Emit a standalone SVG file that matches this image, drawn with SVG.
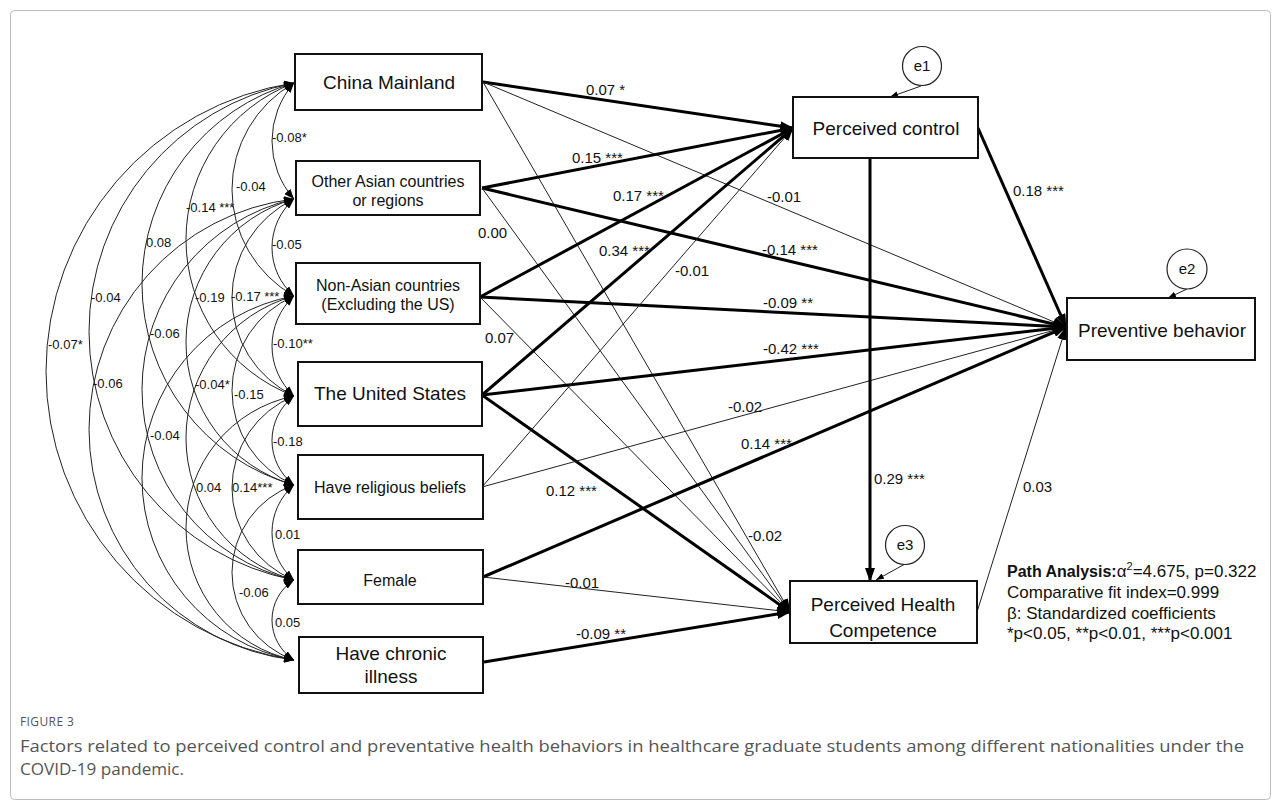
<svg xmlns="http://www.w3.org/2000/svg" width="1281" height="807" viewBox="0 0 1281 807">
<defs>
<style>
.box{fill:#fff;stroke:#111;stroke-width:2}
.thick{stroke:#000;stroke-width:3;fill:none;marker-end:url(#ah)}
.thin{stroke:#222;stroke-width:1;fill:none;marker-end:url(#ah)}
.cov{stroke:#222;stroke-width:1;fill:none;marker-start:url(#ca);marker-end:url(#ca)}
.err{stroke:#222;stroke-width:1;fill:none;marker-end:url(#ea)}
.ecirc{fill:#fff;stroke:#222;stroke-width:1.2}
text{font-family:"Liberation Sans",Arial,sans-serif;fill:#111}
.n19{font-size:19px;text-anchor:middle}
.n16{font-size:16px;text-anchor:middle}
.pl{font-size:15px}
.cl{font-size:13px}
.et{font-size:15px;text-anchor:middle}
.note{font-size:17px}
.cap{font-family:"Open Sans","Liberation Sans",sans-serif;fill:#555}
</style>
<marker id="ah" markerUnits="userSpaceOnUse" markerWidth="14" markerHeight="10" refX="13" refY="5" orient="auto"><path d="M0,0 L14,5 L0,10 z" fill="#000"/></marker>
<marker id="ca" markerUnits="userSpaceOnUse" markerWidth="10" markerHeight="8" refX="10" refY="4" orient="auto-start-reverse"><path d="M0,0 L10,4 L0,8 z" fill="#000"/></marker>
<marker id="ea" markerUnits="userSpaceOnUse" markerWidth="8" markerHeight="6" refX="8" refY="3" orient="auto"><path d="M0,0 L8,3 L0,6 z" fill="#000"/></marker>
</defs>
<rect x="0" y="0" width="1281" height="807" fill="#fff"/>
<rect x="10.5" y="10.5" width="1260" height="789" rx="4" fill="none" stroke="#bbb" stroke-width="1"/>

<g id="connectors">
<!-- covariance arcs -->
<path class="cov" d="M294 83 A87.45 87.45 0 0 0 294 199"/>
<path class="cov" d="M294 199 A64.46 64.46 0 0 0 294 296"/>
<path class="cov" d="M294 296 A67.82 67.82 0 0 0 294 396"/>
<path class="cov" d="M294 396 A56 56 0 0 0 294 485"/>
<path class="cov" d="M294 485 A62.28 62.28 0 0 0 294 580"/>
<path class="cov" d="M294 580 A47.36 47.36 0 0 0 294 660"/>
<path class="cov" d="M294 83 A122.47 122.47 0 0 0 294 296"/>
<path class="cov" d="M294 199 A109.24 109.24 0 0 0 294 396"/>
<path class="cov" d="M294 296 A103.02 103.02 0 0 0 294 485"/>
<path class="cov" d="M294 396 A99.26 99.26 0 0 0 294 580"/>
<path class="cov" d="M294 485 A92.74 92.74 0 0 0 294 660"/>
<path class="cov" d="M294 83 A167.39 167.39 0 0 0 294 396"/>
<path class="cov" d="M294 199 A148.67 148.67 0 0 0 294 485"/>
<path class="cov" d="M294 296 A147.35 147.35 0 0 0 294 580"/>
<path class="cov" d="M294 396 A134.67 134.67 0 0 0 294 660"/>
<path class="cov" d="M294 83 A208.9 208.9 0 0 0 294 485"/>
<path class="cov" d="M294 199 A195.38 195.38 0 0 0 294 580"/>
<path class="cov" d="M294 296 A184.96 184.96 0 0 0 294 660"/>
<path class="cov" d="M294 83 A253.12 253.12 0 0 0 294 580"/>
<path class="cov" d="M294 199 A232.09 232.09 0 0 0 294 660"/>
<path class="cov" d="M294 83 A291.81 291.81 0 0 0 294 660"/>
<!-- regression paths -->
<line class="thick" x1="483" y1="82" x2="793" y2="128"/>
<line class="thin" x1="483" y1="82" x2="1066" y2="327"/>
<line class="thin" x1="483" y1="82" x2="790" y2="612"/>
<line class="thick" x1="482" y1="188" x2="793" y2="128"/>
<line class="thick" x1="482" y1="188" x2="1066" y2="327"/>
<line class="thin" x1="482" y1="188" x2="790" y2="612"/>
<line class="thick" x1="480" y1="297" x2="793" y2="128"/>
<line class="thick" x1="480" y1="297" x2="1066" y2="327"/>
<line class="thin" x1="480" y1="297" x2="790" y2="612"/>
<line class="thick" x1="482" y1="395" x2="793" y2="128"/>
<line class="thick" x1="482" y1="395" x2="1066" y2="327"/>
<line class="thick" x1="482" y1="395" x2="790" y2="612"/>
<line class="thin" x1="482" y1="487" x2="793" y2="128"/>
<line class="thin" x1="482" y1="487" x2="1066" y2="327"/>
<line class="thick" x1="483" y1="577" x2="1066" y2="327"/>
<line class="thin" x1="483" y1="577" x2="790" y2="612"/>
<line class="thick" x1="484" y1="662" x2="790" y2="612"/>
<line class="thick" x1="978" y1="128" x2="1066" y2="327"/>
<line class="thick" x1="870" y1="158" x2="870" y2="581"/>
<line class="thin" x1="977" y1="612" x2="1066" y2="327"/>
<!-- error terms -->
<line class="err" x1="921" y1="86" x2="890" y2="97"/>
<line class="err" x1="1187" y1="289" x2="1168" y2="298"/>
<line class="err" x1="905" y1="564" x2="876" y2="580"/>
</g>

<g id="cov-labels" class="cl">
<text x="272" y="142">-0.08*</text>
<text x="272" y="249">-0.05</text>
<text x="273" y="348">-0.10**</text>
<text x="273" y="446">-0.18</text>
<text x="275" y="539">0.01</text>
<text x="275" y="627">0.05</text>
<text x="236" y="191">-0.04</text>
<text x="231" y="301">-0.17 ***</text>
<text x="234" y="399">-0.15</text>
<text x="232" y="492">0.14***</text>
<text x="239" y="597">-0.06</text>
<text x="186" y="212">-0.14 ***</text>
<text x="195" y="302">-0.19</text>
<text x="195" y="389">-0.04*</text>
<text x="196" y="492">0.04</text>
<text x="146" y="247">0.08</text>
<text x="150" y="338">-0.06</text>
<text x="150" y="440">-0.04</text>
<text x="91" y="302">-0.04</text>
<text x="93" y="388">-0.06</text>
<text x="48" y="349">-0.07*</text>
</g>

<g id="path-labels" class="pl">
<text x="586" y="95">0.07 *</text>
<text x="572" y="163">0.15 ***</text>
<text x="613" y="201">0.17 ***</text>
<text x="767" y="202">-0.01</text>
<text x="478" y="238">0.00</text>
<text x="762" y="255">-0.14 ***</text>
<text x="599" y="256">0.34 ***</text>
<text x="675" y="276">-0.01</text>
<text x="763" y="308">-0.09 **</text>
<text x="485" y="343">0.07</text>
<text x="763" y="354">-0.42 ***</text>
<text x="728" y="412">-0.02</text>
<text x="741" y="449">0.14 ***</text>
<text x="546" y="496">0.12 ***</text>
<text x="748" y="541">-0.02</text>
<text x="565" y="588">-0.01</text>
<text x="576" y="639">-0.09 **</text>
<text x="1013" y="196">0.18 ***</text>
<text x="874" y="484">0.29 ***</text>
<text x="1023" y="492">0.03</text>
</g>

<g id="china-mainland">
<rect class="box" x="295" y="54" width="187" height="56"/>
<text class="n19" x="389" y="89">China Mainland</text>
</g>
<g id="other-asian">
<rect class="box" x="296" y="161" width="184" height="54"/>
<text class="n16" x="388" y="187">Other Asian countries</text>
<text class="n16" x="388" y="206">or regions</text>
</g>
<g id="non-asian">
<rect class="box" x="296" y="263" width="184" height="61"/>
<text class="n16" x="388" y="291">Non-Asian countries</text>
<text class="n16" x="388" y="310">(Excluding the US)</text>
</g>
<g id="united-states">
<rect class="box" x="298" y="362" width="184" height="64"/>
<text class="n19" x="390" y="400">The United States</text>
</g>
<g id="religious">
<rect class="box" x="298" y="455" width="185" height="64"/>
<text class="n16" x="390" y="493">Have religious beliefs</text>
</g>
<g id="female">
<rect class="box" x="298" y="550" width="185" height="54"/>
<text class="n16" x="390" y="586">Female</text>
</g>
<g id="chronic">
<rect class="box" x="299" y="637" width="184" height="56"/>
<text class="n19" x="391" y="660">Have chronic</text>
<text class="n19" x="391" y="683">illness</text>
</g>
<g id="perceived-control">
<rect class="box" x="793" y="97" width="185" height="61"/>
<text class="n19" x="886" y="135">Perceived control</text>
</g>
<g id="preventive-behavior">
<rect class="box" x="1067" y="298" width="188" height="62"/>
<text class="n19" x="1162" y="337">Preventive behavior</text>
</g>
<g id="health-competence">
<rect class="box" x="790" y="581" width="187" height="62"/>
<text class="n19" x="883" y="611">Perceived Health</text>
<text class="n19" x="883" y="637">Competence</text>
</g>
<g id="e1">
<circle class="ecirc" cx="922" cy="66" r="19.5"/>
<text class="et" x="922" y="71">e1</text>
</g>
<g id="e2">
<circle class="ecirc" cx="1187" cy="269" r="20"/>
<text class="et" x="1187" y="274">e2</text>
</g>
<g id="e3">
<circle class="ecirc" cx="905" cy="545" r="19.5"/>
<text class="et" x="905" y="550">e3</text>
</g>

<g id="fit-note" class="note">
<text x="1007" y="577"><tspan font-weight="bold" font-size="16">Path Analysis:</tspan>α<tspan font-size="11" dy="-7">2</tspan><tspan dy="7">=4.675, p=0.322</tspan></text>
<text x="1007" y="598">Comparative fit index=0.999</text>
<text x="1007" y="619">β: Standardized coefficients</text>
<text x="1007" y="639">*p&lt;0.05, **p&lt;0.01, ***p&lt;0.001</text>
</g>

<g id="caption">
<text class="cap" x="20" y="726" font-size="12" letter-spacing="0.4">FIGURE 3</text>
<text class="cap" x="20" y="752" font-size="17" textLength="1224" lengthAdjust="spacingAndGlyphs">Factors related to perceived control and preventative health behaviors in healthcare graduate students among different nationalities under the</text>
<text class="cap" x="20" y="775" font-size="17" textLength="164" lengthAdjust="spacingAndGlyphs">COVID-19 pandemic.</text>
</g>
</svg>
